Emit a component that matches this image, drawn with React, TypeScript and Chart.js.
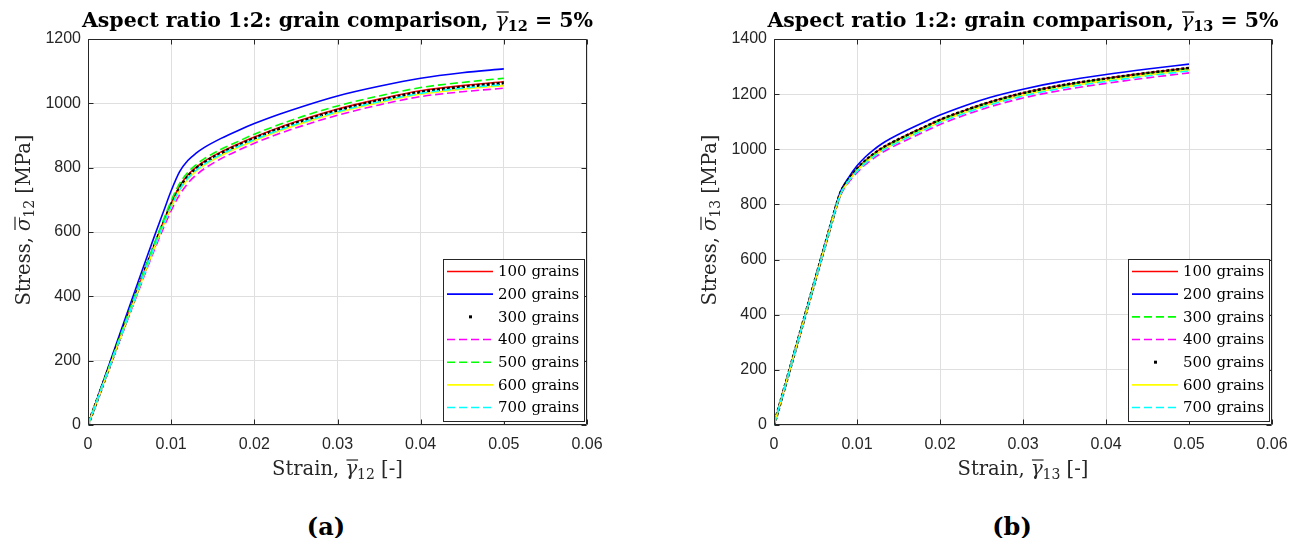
import React, { useEffect, useRef } from "react";
import { Chart, registerables } from "chart.js";
Chart.register(...registerables);

// ---------- data ----------
const strain = [0, 0.002, 0.004, 0.006, 0.007, 0.008, 0.009, 0.01, 0.011, 0.012, 0.013, 0.014, 0.016, 0.018, 0.02, 0.023, 0.026, 0.03, 0.035, 0.04, 0.045, 0.05];

const xTickValues = [0, 0.01, 0.02, 0.03, 0.04, 0.05, 0.06];
const xTickLabels = ["0", "0.01", "0.02", "0.03", "0.04", "0.05", "0.06"];
const yTickValuesA = [0, 200, 400, 600, 800, 1000, 1200];
const yTickLabelsA = ["0", "200", "400", "600", "800", "1000", "1200"];
const yTickValuesB = [0, 200, 400, 600, 800, 1000, 1200, 1400];
const yTickLabelsB = ["0", "200", "400", "600", "800", "1000", "1200", "1400"];

const grainLabels = ["100 grains", "200 grains", "300 grains", "400 grains", "500 grains", "600 grains", "700 grains"];

// (a) gamma_12
const a100 = [0, 142, 284, 424, 494, 562, 628, 690, 742, 777, 801, 820, 849, 873, 895, 925, 951, 982, 1013, 1039, 1055, 1067];
const a200 = [0, 148, 296, 443, 516, 588, 658, 728, 787, 822, 845, 863, 891, 915, 937, 966, 992, 1023, 1053, 1078, 1095, 1107];
const a300 = [0, 141, 282, 421, 491, 558, 623, 684, 736, 772, 797, 816, 845, 869, 891, 921, 947, 978, 1009, 1035, 1051, 1063];
const a400 = [0, 138, 276, 412, 480, 546, 608, 666, 715, 751, 777, 797, 828, 853, 876, 906, 932, 963, 995, 1021, 1036, 1047];
const a500 = [0, 143, 286, 427, 497, 566, 633, 697, 750, 785, 809, 828, 857, 881, 904, 934, 961, 992, 1023, 1049, 1065, 1078];
const a600 = [0, 140, 279, 417, 486, 553, 617, 677, 728, 764, 789, 808, 838, 862, 884, 914, 940, 971, 1002, 1028, 1044, 1055];
const a700 = [0, 140, 280, 419, 488, 555, 620, 680, 731, 767, 792, 811, 841, 865, 887, 917, 943, 974, 1005, 1031, 1047, 1058];

// (b) gamma_13
const b100 = [0, 212, 424, 636, 742, 840, 891, 929, 959, 983, 1004, 1021, 1051, 1079, 1107, 1141, 1171, 1204, 1234, 1257, 1277, 1295];
const b200 = [0, 213, 426, 639, 745, 846, 898, 940, 972, 998, 1020, 1038, 1069, 1097, 1124, 1158, 1188, 1218, 1248, 1271, 1291, 1309];
const b300 = [0, 212, 424, 636, 742, 839, 889, 927, 956, 980, 1001, 1018, 1048, 1076, 1104, 1138, 1168, 1201, 1231, 1254, 1274, 1292];
const b400 = [0, 211, 422, 633, 738, 832, 880, 915, 944, 967, 987, 1004, 1034, 1062, 1090, 1124, 1154, 1186, 1216, 1239, 1259, 1277];
const b500 = [0, 212, 424, 636, 742, 840, 890, 928, 958, 982, 1003, 1020, 1050, 1078, 1106, 1140, 1170, 1203, 1233, 1256, 1276, 1294];
const b600 = [0, 211, 423, 634, 740, 836, 885, 922, 951, 975, 996, 1013, 1043, 1071, 1099, 1133, 1163, 1196, 1226, 1249, 1269, 1287];
const b700 = [0, 211, 423, 635, 741, 837, 886, 920, 949, 973, 994, 1011, 1041, 1069, 1097, 1131, 1161, 1193, 1223, 1246, 1266, 1284];

// ---------- styles ----------
type Style = { color: string; dash: number[]; dots: boolean };
const DASH = [8, 4];
const sRed: Style = { color: "#ff0000", dash: [], dots: false };
const sBlue: Style = { color: "#0000ff", dash: [], dots: false };
const sBlack: Style = { color: "#000000", dash: [3, 2], dots: true };
const sMag: Style = { color: "#ff00ff", dash: DASH, dots: false };
const sGreen: Style = { color: "#00ff00", dash: DASH, dots: false };
const sYellow: Style = { color: "#ffff00", dash: [], dots: false };
const sCyan: Style = { color: "#00ffff", dash: DASH, dots: false };

const stylesA = [sRed, sBlue, sBlack, sMag, sGreen, sYellow, sCyan];
const stylesB = [sRed, sBlue, sGreen, sMag, sBlack, sYellow, sCyan];

const SERIF = '"DejaVu Serif"';
const AXIS = "#262626";

interface Seg { t: string; font: string; dy?: number; bar?: boolean }

function segsWidth(ctx: CanvasRenderingContext2D, segs: Seg[]) {
  let w = 0;
  for (const s of segs) { ctx.font = s.font; w += ctx.measureText(s.t).width; }
  return w;
}
function drawSegs(ctx: CanvasRenderingContext2D, segs: Seg[], cx: number, base: number, barY: number) {
  let x = cx - segsWidth(ctx, segs) / 2;
  for (const s of segs) {
    ctx.font = s.font;
    const w = ctx.measureText(s.t).width;
    ctx.fillText(s.t, x, base + (s.dy || 0));
    if (s.bar) {
      ctx.save();
      ctx.lineWidth = 1.2;
      ctx.strokeStyle = ctx.fillStyle as string;
      ctx.beginPath();
      ctx.moveTo(x + 1, base - barY);
      ctx.lineTo(x + w + 1, base - barY);
      ctx.stroke();
      ctx.restore();
    }
    x += w;
  }
}

interface PanelCfg {
  left: number;
  padRight: number;
  sub: string;
  series: number[][];
  styles: Style[];
  yMax: number;
  yVals: number[];
  yLabels: string[];
}

function makeDecor(cfg: PanelCfg) {
  return {
    id: "decor",
    afterDatasetsDraw(chart: any) {
      const { ctx, chartArea: ca, scales } = chart;
      ctx.save();
      ctx.strokeStyle = AXIS;
      ctx.lineWidth = 1;
      const L = Math.round(ca.left) + 0.5, R = Math.round(ca.right) - 0.5;
      const T = Math.round(ca.top) + 0.5, B = Math.round(ca.bottom) - 0.5;
      ctx.beginPath();
      ctx.rect(L, T, R - L, B - T);
      ctx.stroke();
      const tl = 5;
      ctx.beginPath();
      for (const v of xTickValues) {
        const px = Math.round(scales.x.getPixelForValue(v)) + 0.5;
        ctx.moveTo(px, B); ctx.lineTo(px, B - tl);
        ctx.moveTo(px, T); ctx.lineTo(px, T + tl);
      }
      for (const v of cfg.yVals) {
        const py = Math.round(scales.y.getPixelForValue(v)) + 0.5;
        ctx.moveTo(L, py); ctx.lineTo(L + tl, py);
        ctx.moveTo(R, py); ctx.lineTo(R - tl, py);
      }
      ctx.stroke();
      ctx.restore();
    },
    afterDraw(chart: any) {
      const { ctx, chartArea: ca } = chart;
      ctx.save();
      // legend
      const w = 141, h = 162;
      const x1 = Math.round(ca.right - 3 - w), y1 = Math.round(ca.bottom - 4 - h);
      ctx.fillStyle = "#ffffff";
      ctx.fillRect(x1, y1, w, h);
      ctx.strokeStyle = AXIS;
      ctx.lineWidth = 1;
      ctx.strokeRect(x1 + 0.5, y1 + 0.5, w, h);
      chart.data.datasets.forEach((d: any, i: number) => {
        const st = cfg.styles[i];
        const cy = y1 + 12.5 + i * 22.67;
        if (st.dots) {
          ctx.fillStyle = "#000";
          ctx.fillRect(x1 + 26, cy - 1.5, 3, 3);
        } else {
          ctx.strokeStyle = st.color;
          ctx.lineWidth = 1.6;
          ctx.setLineDash(st.dash);
          ctx.beginPath();
          ctx.moveTo(x1 + 4, cy);
          ctx.lineTo(x1 + 50, cy);
          ctx.stroke();
          ctx.setLineDash([]);
        }
        ctx.fillStyle = "#000";
        ctx.font = `15px ${SERIF}`;
        ctx.textBaseline = "middle";
        ctx.textAlign = "left";
        ctx.fillText(d.label, x1 + 55, cy + 1);
      });
      // titles
      ctx.textBaseline = "alphabetic";
      ctx.textAlign = "left";
      ctx.fillStyle = "#000";
      const cx = (ca.left + ca.right) / 2;
      drawSegs(ctx, [
        { t: "Aspect ratio 1:2: grain comparison, ", font: `bold 20.5px ${SERIF}` },
        { t: "γ", font: `italic 20.5px ${SERIF}`, bar: true },
        { t: cfg.sub, font: `bold 14.5px ${SERIF}`, dy: 4 },
        { t: " = 5%", font: `bold 20.5px ${SERIF}` },
      ], cx, 19, 15);
      ctx.fillStyle = AXIS;
      drawSegs(ctx, [
        { t: "Strain, ", font: `19.5px ${SERIF}` },
        { t: "γ", font: `italic 19.5px ${SERIF}`, bar: true },
        { t: cfg.sub, font: `14px ${SERIF}`, dy: 4 },
        { t: " [-]", font: `19.5px ${SERIF}` },
      ], cx, 467, 15);
      ctx.save();
      ctx.translate(22, 212);
      ctx.rotate(-Math.PI / 2);
      drawSegs(ctx, [
        { t: "Stress, ", font: `19.5px ${SERIF}` },
        { t: "σ", font: `italic 19.5px ${SERIF}`, bar: true },
        { t: cfg.sub, font: `14px ${SERIF}`, dy: 4 },
        { t: " [MPa]", font: `19.5px ${SERIF}` },
      ], 0, 0, 15);
      ctx.restore();
      ctx.restore();
    },
  };
}

const CW = 610;

function Panel({ cfg }: { cfg: PanelCfg }) {
  const ref = useRef<HTMLCanvasElement>(null);
  useEffect(() => {
    const canvas = ref.current;
    if (!canvas) return;
    const chart = new Chart(canvas, {
      type: "line",
      data: {
        datasets: cfg.series.map((vals, i) => {
          const st = cfg.styles[i];
          return {
            label: grainLabels[i],
            data: strain.map((x, j) => ({ x, y: vals[j] })),
            borderColor: st.color,
            backgroundColor: st.color,
            borderWidth: st.dots ? 3 : 1.6,
            borderDash: st.dash,
            pointRadius: 0,
            fill: false,
            cubicInterpolationMode: "monotone",
            order: -i,
          } as any;
        }),
      },
      options: {
        responsive: false,
        animation: false,
        devicePixelRatio: 1,
        events: [],
        layout: { padding: { top: 31, right: cfg.padRight, bottom: 0, left: 0 } },
        plugins: { legend: { display: false }, title: { display: false }, tooltip: { enabled: false } },
        scales: {
          x: {
            type: "linear",
            min: 0,
            max: 0.06,
            afterBuildTicks: (s: any) => { s.ticks = xTickValues.map((v) => ({ value: v })); },
            afterFit: (s: any) => { s.height = 73; },
            grid: { color: "#dfdfdf", drawTicks: false },
            border: { display: false },
            ticks: {
              padding: 10,
              color: AXIS,
              maxRotation: 0,
              autoSkip: false,
              font: { family: "Liberation Sans", size: 16 },
              callback: (v: any) => xTickLabels[xTickValues.indexOf(Number(v))],
            },
          },
          y: {
            type: "linear",
            min: 0,
            max: cfg.yMax,
            afterBuildTicks: (s: any) => { s.ticks = cfg.yVals.map((v) => ({ value: v })); },
            afterFit: (s: any) => { s.width = 80; },
            grid: { color: "#dfdfdf", drawTicks: false },
            border: { display: false },
            ticks: {
              padding: 7,
              color: AXIS,
              autoSkip: false,
              font: { family: "Liberation Sans", size: 16 },
              callback: (v: any) => cfg.yLabels[cfg.yVals.indexOf(Number(v))],
            },
          },
        },
      } as any,
      plugins: [makeDecor(cfg)],
    });
    return () => chart.destroy();
  }, []);
  return (
    <canvas
      ref={ref}
      width={CW}
      height={490}
      style={{ position: "absolute", left: cfg.left, top: 0, width: CW, height: 490, display: "block" }}
    />
  );
}

const cfgA: PanelCfg = {
  left: 0, padRight: 31, sub: "12",
  series: [a100, a200, a300, a400, a500, a600, a700],
  styles: stylesA, yMax: 1200, yVals: yTickValuesA, yLabels: yTickLabelsA,
};
const cfgB: PanelCfg = {
  left: 686, padRight: 32, sub: "13",
  series: [b100, b200, b300, b400, b500, b600, b700],
  styles: stylesB, yMax: 1400, yVals: yTickValuesB, yLabels: yTickLabelsB,
};

const capStyle: React.CSSProperties = {
  position: "absolute",
  top: 502,
  width: 80,
  textAlign: "center",
  font: `bold 24px ${SERIF}`,
  lineHeight: "34px",
  color: "#000",
};

export default function App() {
  return (
    <div style={{ position: "relative", width: 1287, height: 530, overflow: "hidden", background: "#fff" }}>
      <Panel cfg={cfgA} />
      <Panel cfg={cfgB} />
      <div style={{ ...capStyle, left: 326 - 8 - 40 }}>(a)</div>
      <div style={{ ...capStyle, left: 1012 - 8 - 40 }}>(b)</div>
    </div>
  );
}
